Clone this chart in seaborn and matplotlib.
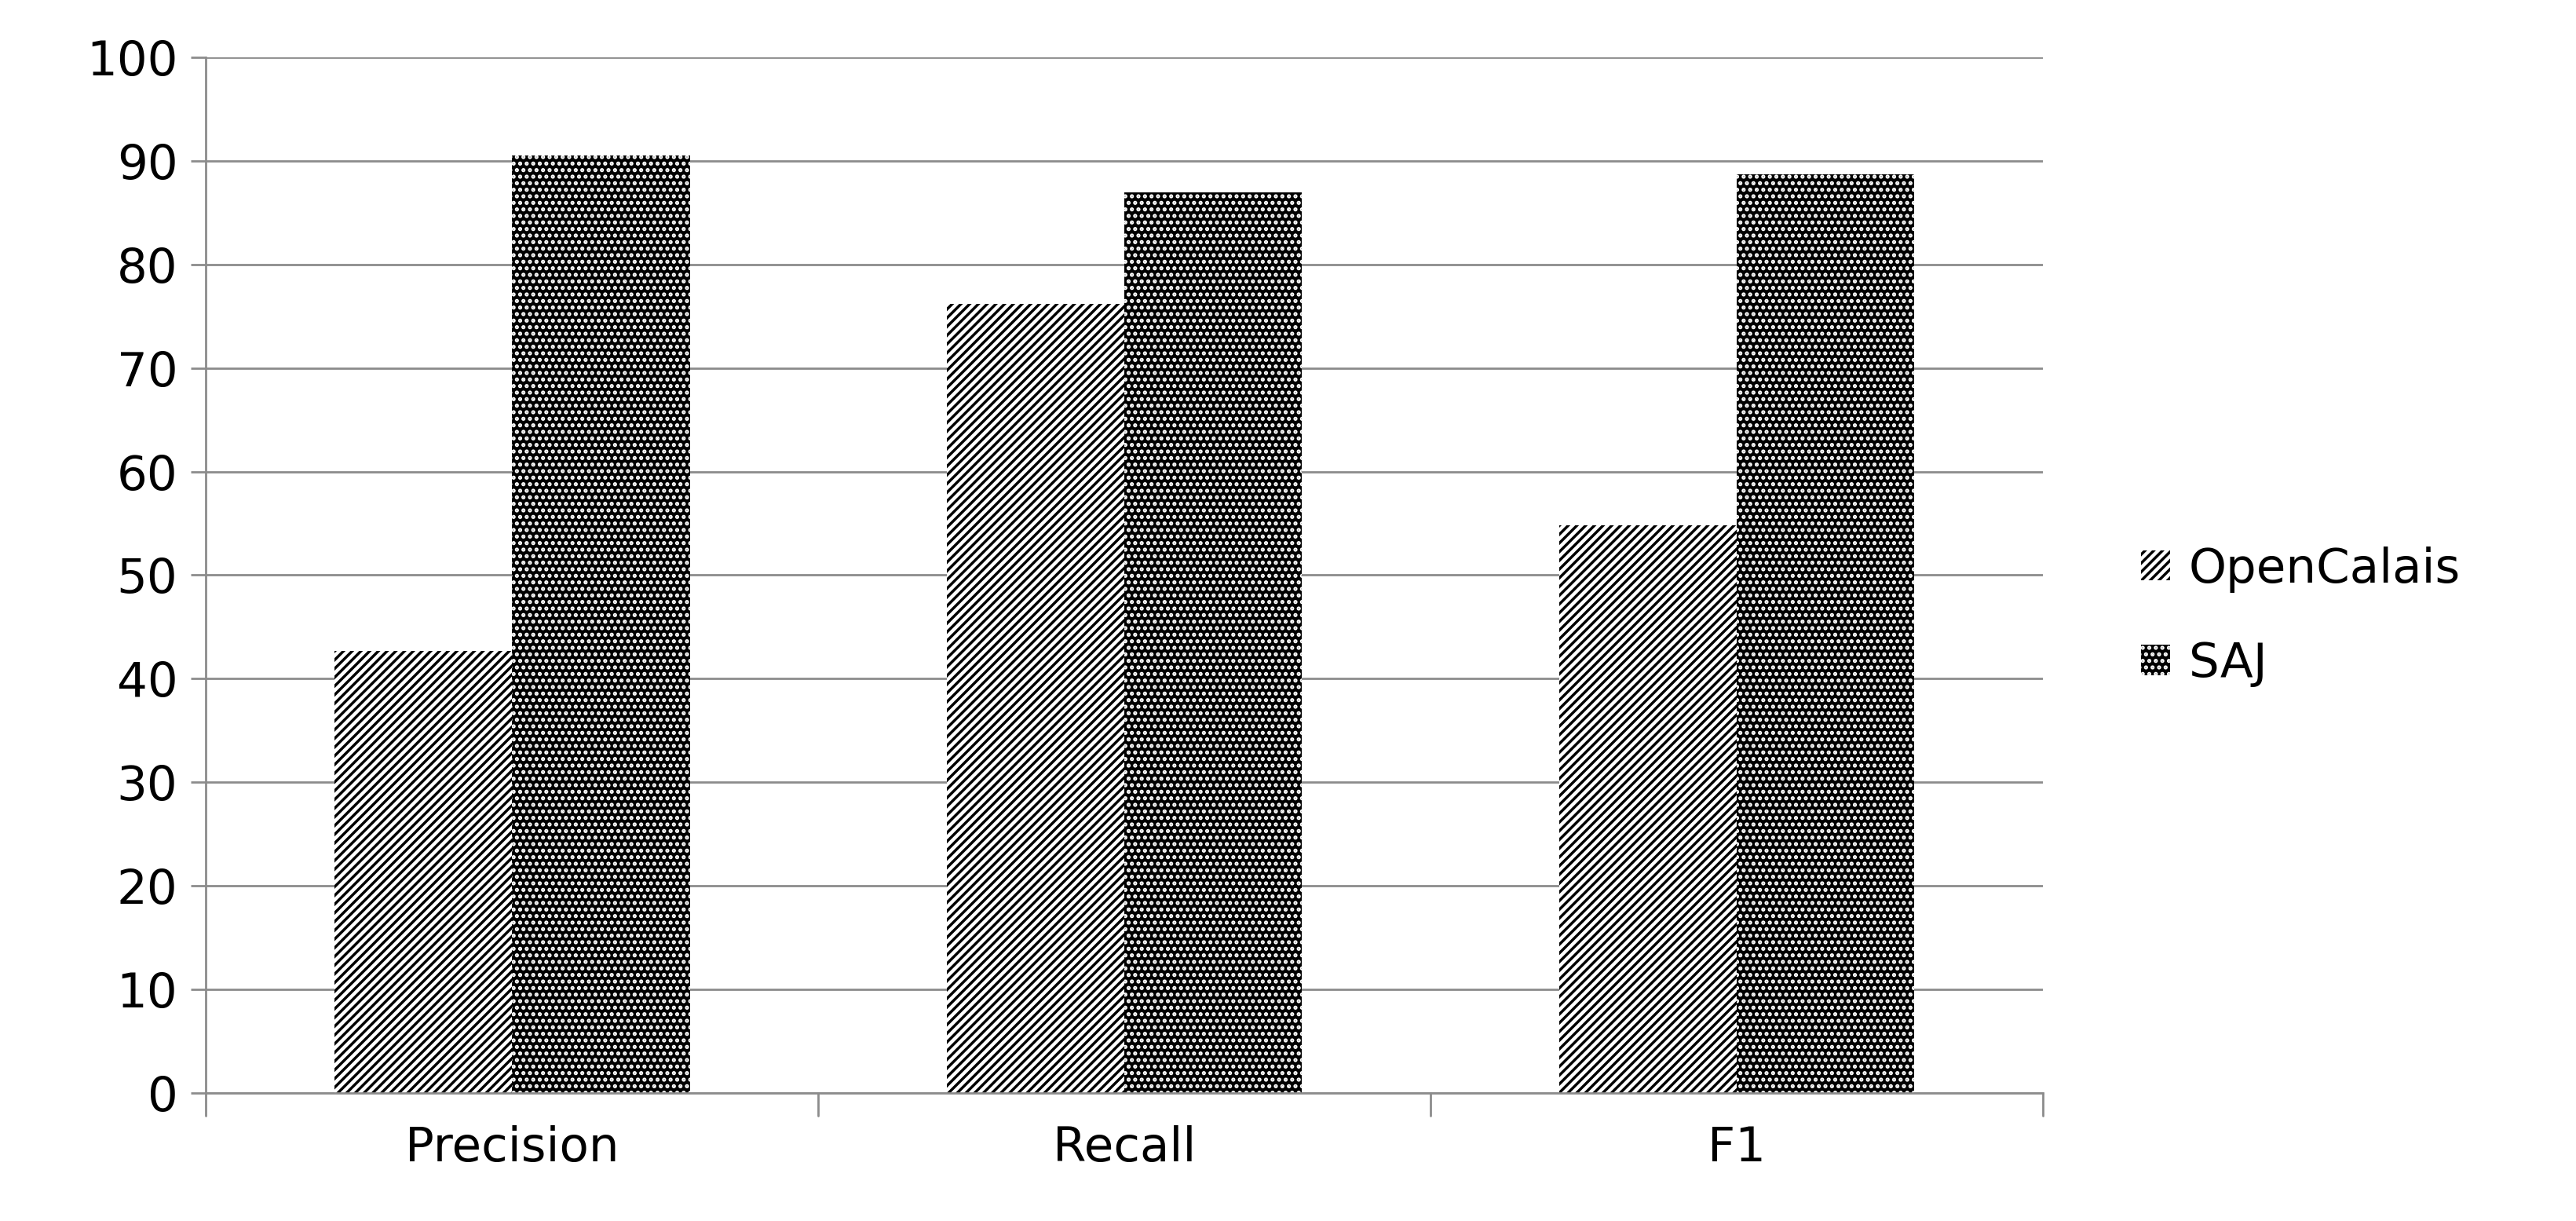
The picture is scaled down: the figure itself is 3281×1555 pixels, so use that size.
import matplotlib
matplotlib.use("Agg")
import matplotlib.pyplot as plt
import seaborn as sns
import pandas as pd

categories = ["Precision", "Recall", "F1"]
series = ["OpenCalais", "SAJ"]
opencalais = [42.7, 76.2, 54.8]
saj = [90.5, 87.0, 88.7]

df = pd.DataFrame({"metric": categories * 2,
                   "system": [series[0]] * 3 + [series[1]] * 3,
                   "value": opencalais + saj})

sns.set_theme(style="white")
plt.rcParams["font.family"] = ["DejaVu Sans"]
plt.rcParams["hatch.linewidth"] = 2.5
fig = plt.figure(figsize=(32.81, 15.55), dpi=100)
ax = fig.add_axes([0.08, 0.105, 0.713, 0.848])
sns.barplot(data=df, x="metric", y="value", hue="system", ax=ax,
            width=0.58, palette=["white", "black"], saturation=1, legend=True)

H1, H2 = "///", ".."
def style(p, k):
    if k == 0:
        p.set_facecolor("white"); p.set_hatch(H1); p.set_edgecolor("black")
    else:
        p.set_facecolor("black"); p.set_hatch(H2); p.set_edgecolor("white")
    p.set_linewidth(0)

n = len(categories)
for i, p in enumerate(ax.patches[:2 * n]):
    style(p, 0 if i < n else 1)

ax.set_ylim(0, 100)
ax.set_yticks(range(0, 101, 10))
ax.set_xlim(-0.5, 2.5)
ax.yaxis.grid(True, color="#8c8c8c", linewidth=2)
ax.set_axisbelow(True)
ax.set_xlabel("")
ax.set_ylabel("")
for s in ["top", "right"]:
    ax.spines[s].set_visible(False)
for s in ["left", "bottom"]:
    ax.spines[s].set_color("#8c8c8c")
    ax.spines[s].set_linewidth(2)
ax.tick_params(axis="y", labelsize=44, length=14, width=2, color="#8c8c8c", left=True, pad=12, labelcolor="black")
ax.tick_params(axis="x", labelsize=44, length=0, pad=30, labelcolor="black")
for xv in [-0.5, 0.5, 1.5, 2.5]:
    ax.plot([xv, xv], [0, -2.2], color="#8c8c8c", lw=2, clip_on=False)

handles, labels = ax.get_legend_handles_labels()
style(handles[0], 0); style(handles[1], 1)
ax.legend(handles, labels, loc="center left", bbox_to_anchor=(1.03, 0.46), frameon=False,
          fontsize=44, handlelength=0.6, handleheight=0.6, labelspacing=1.0, handletextpad=0.4,
          labelcolor="black")
fig.savefig("out.png", dpi=100)
